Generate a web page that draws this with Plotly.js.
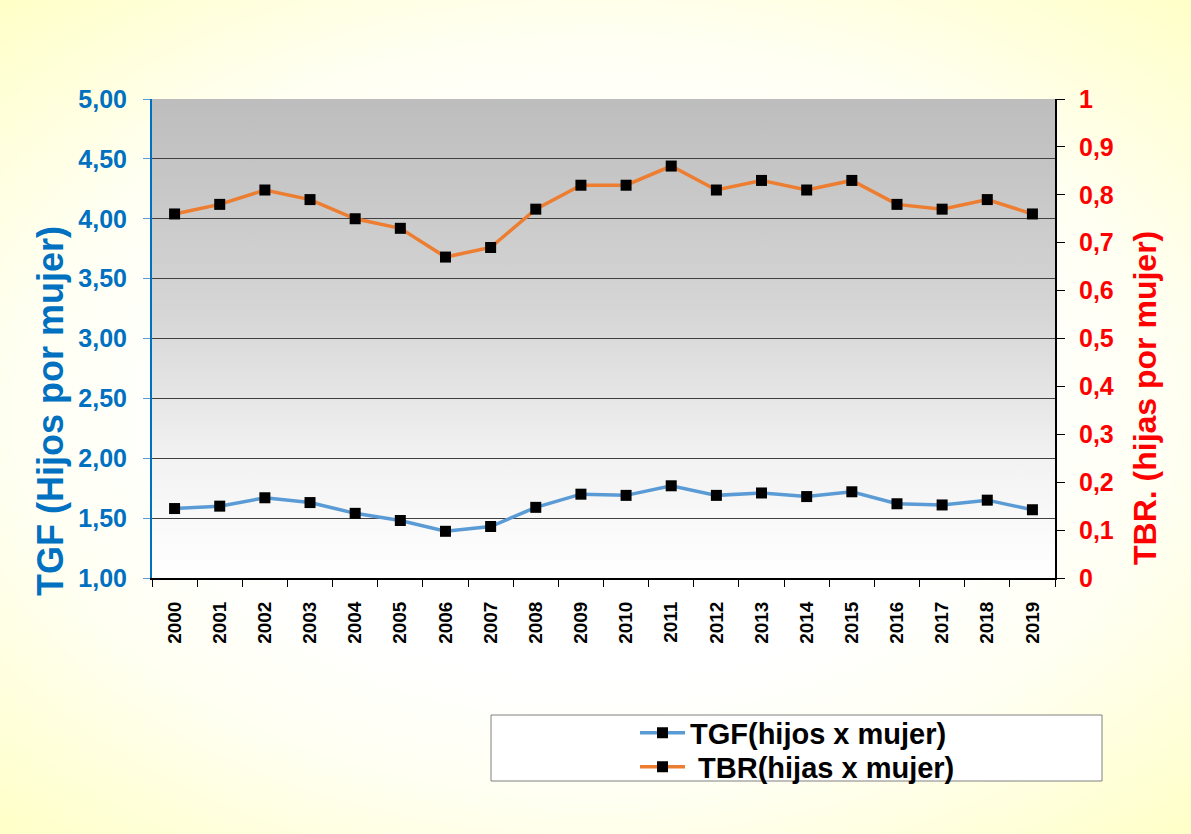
<!DOCTYPE html>
<html>
<head>
<meta charset="utf-8">
<script src="https://cdn.plot.ly/plotly-3.0.1.min.js"></script>
<style>
  html, body { margin: 0; padding: 0; width: 1191px; height: 834px; overflow: hidden; }
  body { background: radial-gradient(ellipse 75% 70% at 50% 50%, #ffffff 45%, #fffff2 65%, #ffffc4 100%); position: relative; }
  #plotbg { position: absolute; left: 152px; top: 99px; width: 903px; height: 479px;
            background: linear-gradient(to bottom, #bdbdbd 0%, #d6d6d6 45%, #f2f2f2 75%, #ffffff 100%); }
  #chart { position: absolute; left: 0; top: 0; width: 1191px; height: 834px; }
</style>
</head>
<body>
<div id="plotbg"></div>
<div id="chart"></div>
<script>
const years = ["2000","2001","2002","2003","2004","2005","2006","2007","2008","2009",
               "2010","2011","2012","2013","2014","2015","2016","2017","2018","2019"];
const tgf = [1.58,1.60,1.67,1.63,1.54,1.48,1.39,1.43,1.59,1.70,
             1.69,1.77,1.69,1.71,1.68,1.72,1.62,1.61,1.65,1.57];
const tbr = [0.76,0.78,0.81,0.79,0.75,0.73,0.67,0.69,0.77,0.82,
             0.82,0.86,0.81,0.83,0.81,0.83,0.78,0.77,0.79,0.76];
const nameTGF = "TGF(hijos x mujer)";
const nameTBR = " TBR(hijas x mujer)";
const titleLeft = "TGF (Hijos por mujer)";
const titleRight = "TBR. (hijas por mujer)";

const font = "Liberation Sans, Arial, sans-serif";

const traces = [
  { x: years, y: tgf, name: nameTGF, type: "scatter", mode: "lines+markers",
    line: { color: "#5b9bd5", width: 3.5 },
    marker: { symbol: "square", size: 11, color: "#000000" }, yaxis: "y", legend: "legend" },
  { x: years, y: tbr, name: nameTBR, type: "scatter", mode: "lines+markers",
    line: { color: "#ed7d31", width: 3.5 },
    marker: { symbol: "square", size: 11, color: "#000000" }, yaxis: "y2", legend: "legend2" }
];

const legendFont = { family: font, size: 29, color: "#000", weight: "bold" };
const px = (p) => (p - 152) / 903;
const py = (p) => (578 - p) / 479;

const layout = {
  width: 1191, height: 834,
  paper_bgcolor: "rgba(0,0,0,0)", plot_bgcolor: "rgba(0,0,0,0)",
  separators: ",.",
  margin: { l: 152, r: 136, t: 99, b: 256, pad: 0 },
  font: { family: font, color: "#000" },
  showlegend: true,
  xaxis: {
    type: "category", tickangle: -90, tickson: "boundaries",
    ticks: "outside", ticklen: 7, tickcolor: "#000", tickwidth: 1,
    showline: true, linecolor: "#000", linewidth: 2, showgrid: false,
    ticklabelstandoff: 14,
    tickfont: { family: font, size: 19, color: "#000", weight: "bold" },
    range: [-0.5, 19.5]
  },
  yaxis: {
    range: [1, 5], dtick: 0.5, tick0: 1, tickformat: ".2f",
    showline: true, linecolor: "#0070c0", linewidth: 2,
    ticks: "outside", ticklen: 7, tickcolor: "#5b9bd5",
    ticklabelstandoff: 11,
    showgrid: true, gridcolor: "#404040", gridwidth: 1, zeroline: false,
    tickfont: { family: font, size: 25, color: "#0070c0", weight: "bold" }
  },
  yaxis2: {
    overlaying: "y", side: "right", range: [0, 1], dtick: 0.1, tick0: 0,
    showline: true, linecolor: "#000", linewidth: 2,
    ticks: "outside", ticklen: 8, tickcolor: "#000",
    ticklabelstandoff: 9,
    showgrid: false, zeroline: false,
    tickfont: { family: font, size: 25, color: "#ff0000", weight: "bold" }
  },
  legend: {
    x: px(635), xanchor: "left", y: py(733), yanchor: "middle",
    bgcolor: "rgba(0,0,0,0)", borderwidth: 0, font: legendFont, itemwidth: 45
  },
  legend2: {
    x: px(635), xanchor: "left", y: py(767), yanchor: "middle",
    bgcolor: "rgba(0,0,0,0)", borderwidth: 0, font: legendFont, itemwidth: 45
  },
  annotations: [
    { text: titleLeft, xref: "paper", yref: "paper", x: px(50), y: py(411),
      xanchor: "center", yanchor: "middle", textangle: -90, showarrow: false,
      font: { family: font, size: 36, color: "#0070c0", weight: "bold" } },
    { text: titleRight, xref: "paper", yref: "paper", x: px(1145), y: py(398),
      xanchor: "center", yanchor: "middle", textangle: -90, showarrow: false,
      font: { family: font, size: 32, color: "#ff0000", weight: "bold" } }
  ],
  shapes: [
    { type: "rect", xref: "paper", yref: "paper",
      x0: px(491), x1: px(1102), y0: py(781), y1: py(715),
      fillcolor: "#ffffff", line: { color: "#808080", width: 1 }, layer: "below" }
  ]
};

Plotly.newPlot("chart", traces, layout, { displayModeBar: false, staticPlot: true });
</script>
</body>
</html>
